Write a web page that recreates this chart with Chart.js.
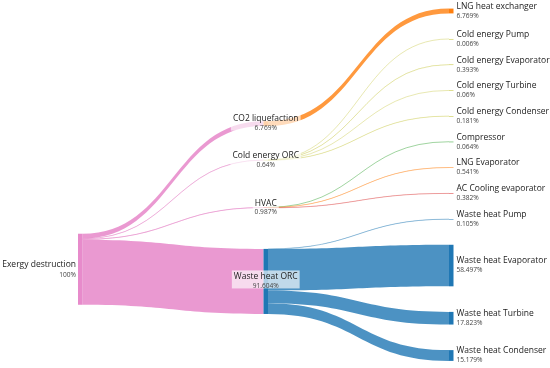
<!DOCTYPE html>
<html><head><meta charset="utf-8">
<script src="https://cdn.jsdelivr.net/npm/chart.js@4.4.1/dist/chart.umd.min.js"></script>
<style>html,body{margin:0;padding:0;background:#fff}#wrap{width:550px;height:368px}</style>
</head><body><div id="wrap"><canvas id="c" width="550" height="368"></canvas></div>
<script>
// ---------- DATA ----------
const nodeLabels = ["Exergy destruction","CO2 liquefaction","Cold energy ORC","HVAC","Waste heat ORC",
  "LNG heat exchanger","Cold energy Pump","Cold energy Evaporator","Cold energy Turbine","Cold energy Condenser",
  "Compressor","LNG Evaporator","AC Cooling evaporator","Waste heat Pump","Waste heat Evaporator",
  "Waste heat Turbine","Waste heat Condenser"];
const linkSource = [0,0,0,0, 1, 2,2,2,2, 3,3,3, 4,4,4,4];
const linkTarget = [1,2,3,4, 5, 6,7,8,9, 10,11,12, 13,14,15,16];
const linkValue  = [6.769,0.64,0.987,91.604, 6.769, 0.006,0.393,0.06,0.181, 0.064,0.541,0.382, 0.105,58.497,17.823,15.179];

// ---------- STYLE ----------
const nodeColors = ["rgba(227,119,194,0.85)","#ff7f0e","#bcbd22","#d62728","#1f77b4",
  "#ff7f0e","#bcbd22","#bcbd22","#bcbd22","#bcbd22","#2ca02c","#ff7f0e","#d62728","#1f77b4",
  "#1f77b4","#1f77b4","#1f77b4"];
const linkColors = ["rgba(227,119,194,0.75)","rgba(227,119,194,0.45)","rgba(227,119,194,0.45)","rgba(227,119,194,0.75)",
  "rgba(255,127,14,0.8)",
  "rgba(188,189,34,0.35)","rgba(188,189,34,0.35)","rgba(188,189,34,0.35)","rgba(188,189,34,0.35)",
  "rgba(44,160,44,0.45)","rgba(255,127,14,0.4)","rgba(214,39,40,0.4)",
  "rgba(31,119,180,0.45)","rgba(31,119,180,0.8)","rgba(31,119,180,0.8)","rgba(31,119,180,0.8)"];
const NODE_PAD = 36;      // vertical gap between nodes, in value units
const NODE_W = 4.5;       // node thickness in px
const FONT = "'Open Sans', 'Noto Sans', sans-serif";

// ---------- SANKEY LAYOUT (value units) ----------
const nodes = nodeLabels.map((label, i) => ({i, label, inL: [], outL: [], layer: 0}));
const links = linkValue.map((v, k) => ({s: nodes[linkSource[k]], t: nodes[linkTarget[k]], v, k}));
links.forEach(l => { l.s.outL.push(l); l.t.inL.push(l); });
for (let pass = 0; pass < nodes.length; pass++)
  links.forEach(l => { l.t.layer = Math.max(l.t.layer, l.s.layer + 1); });
nodes.forEach(n => {
  const a = n.inL.reduce((s, l) => s + l.v, 0), b = n.outL.reduce((s, l) => s + l.v, 0);
  n.value = Math.max(a, b);
});
const nLayers = Math.max(...nodes.map(n => n.layer)) + 1;
const columns = [];
for (let c = 0; c < nLayers; c++) columns.push(nodes.filter(n => n.layer === c));
const YMAX = Math.max(...columns.map(col => col.reduce((s, n) => s + n.value, 0) + (col.length - 1) * NODE_PAD));

function setTop(n, y) { n.y0 = y; n.y1 = y + n.value; }
function linkOffsets() {
  nodes.forEach(n => {
    let o = 0;
    n.outL.slice().sort((a, b) => a.t.y0 - b.t.y0 || a.k - b.k).forEach(l => { l.sOff = o; o += l.v; });
    o = 0;
    n.inL.slice().sort((a, b) => a.s.y0 - b.s.y0 || a.k - b.k).forEach(l => { l.tOff = o; o += l.v; });
  });
}
function resolve(col) {
  let y = 0;
  col.forEach(n => { if (n.y0 < y) setTop(n, y); y = n.y1 + NODE_PAD; });
  const over = y - NODE_PAD - YMAX;
  if (over > 0) {
    let last = col[col.length - 1]; setTop(last, last.y0 - over); y = last.y0;
    for (let i = col.length - 2; i >= 0; i--) {
      const n = col[i];
      if (n.y1 + NODE_PAD > y) setTop(n, y - NODE_PAD - n.value);
      y = n.y0;
    }
  }
}
columns.forEach(col => { let y = 0; col.forEach(n => { setTop(n, y); y += n.value + NODE_PAD; }); });
for (let it = 0; it < 400; it++) {
  linkOffsets();
  const tops = nodes.map(n => {
    const cand = [];
    if (n.inL.length) {
      const w = n.inL.reduce((s, l) => s + l.v, 0);
      cand.push(n.inL.reduce((s, l) => s + l.v * (l.s.y0 + l.sOff - l.tOff), 0) / w);
    }
    if (n.outL.length) {
      const w = n.outL.reduce((s, l) => s + l.v, 0);
      cand.push(n.outL.reduce((s, l) => s + l.v * (l.t.y0 + l.tOff - l.sOff), 0) / w);
    }
    return cand.reduce((a, b) => a + b, 0) / cand.length;
  });
  nodes.forEach((n, i) => setTop(n, tops[i]));
  columns.forEach(resolve);
}
linkOffsets();

function fmt(v) { return (+v.toFixed(3)) + '%'; }

// ---------- DRAW PLUGIN ----------
const sankeyPlugin = {
  id: 'sankey',
  afterDatasetsDraw(chart) {
    const ctx = chart.ctx, xs = chart.scales.x, ys = chart.scales.y;
    const X = n => xs.getPixelForValue(n.layer);
    const Y = v => ys.getPixelForValue(v);
    ctx.save();
    // links
    links.forEach((l, k) => {
      const x0 = X(l.s) + NODE_W, x1 = X(l.t);
      const sy0 = Y(l.s.y0 + l.sOff), sy1 = Y(l.s.y0 + l.sOff + l.v);
      const ty0 = Y(l.t.y0 + l.tOff), ty1 = Y(l.t.y0 + l.tOff + l.v);
      const xm = (x0 + x1) / 2;
      ctx.fillStyle = linkColors[k];
      ctx.beginPath();
      ctx.moveTo(x0, sy0);
      ctx.bezierCurveTo(xm, sy0, xm, ty0, x1, ty0);
      ctx.lineTo(x1, ty1);
      ctx.bezierCurveTo(xm, ty1, xm, sy1, x0, sy1);
      ctx.closePath();
      ctx.fill();
      if (sy1 - sy0 < 1) {
        const sc = (sy0 + sy1) / 2, tc = (ty0 + ty1) / 2;
        ctx.strokeStyle = linkColors[k];
        ctx.lineWidth = 1;
        ctx.beginPath();
        ctx.moveTo(x0, sc);
        ctx.bezierCurveTo(xm, sc, xm, tc, x1, tc);
        ctx.stroke();
      }
    });
    // nodes
    nodes.forEach((n, i) => {
      const y0 = Y(n.y0), y1 = Y(n.y1);
      ctx.fillStyle = nodeColors[i];
      ctx.fillRect(X(n), y0, NODE_W, Math.max(y1 - y0, 0.5));
    });
    // labels
    ctx.textBaseline = 'middle';
    nodes.forEach(n => {
      const cy = Y((n.y0 + n.y1) / 2);
      const nameY = cy - 4.5, pctY = cy + (n.layer === 0 ? 6 : 5);
      const pct = fmt(n.value);
      let x, align;
      if (n.layer === 0) { x = X(n) - 2; align = 'right'; }
      else if (n.layer === nLayers - 1) { x = X(n) + NODE_W + 3; align = 'left'; }
      else { x = X(n) + NODE_W / 2; align = 'center'; }
      if (align === 'center') {
        ctx.font = '8.5px ' + FONT;
        const w = ctx.measureText(n.label).width;
        ctx.fillStyle = 'rgba(255,255,255,0.65)';
        ctx.fillRect(x - w / 2 - 2, nameY - 6.5, w + 4, 18);
      }
      ctx.textAlign = align;
      ctx.fillStyle = '#222';
      ctx.font = '8.5px ' + FONT;
      ctx.fillText(n.label, x, nameY);
      ctx.fillStyle = '#444';
      ctx.font = '6.6px ' + FONT;
      ctx.fillText(pct, x, pctY);
    });
    ctx.restore();
  }
};

new Chart(document.getElementById('c'), {
  type: 'scatter',
  data: { datasets: [{ data: [] }] },
  options: {
    responsive: false,
    animation: false,
    events: [],
    layout: { padding: { left: 78, right: 101, top: 8.6, bottom: 7.1 } },
    scales: {
      x: { type: 'linear', min: 0, max: nLayers - 1, display: false },
      y: { type: 'linear', min: 0, max: YMAX, reverse: true, display: false }
    },
    plugins: { legend: { display: false }, tooltip: { enabled: false } }
  },
  plugins: [sankeyPlugin]
});
</script>
</body></html>
